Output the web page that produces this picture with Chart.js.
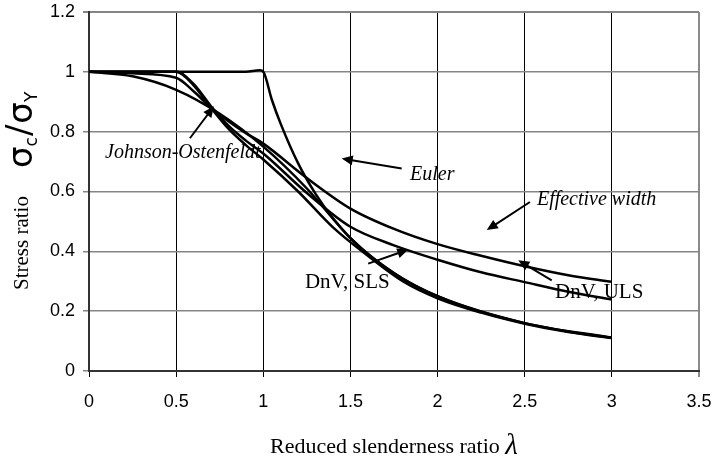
<!DOCTYPE html>
<html>
<head>
<meta charset="utf-8">
<script src="https://cdn.jsdelivr.net/npm/chart.js@4.4.1/dist/chart.umd.min.js"></script>
<style>
  html, body { margin: 0; padding: 0; background: #fff; }
</style>
</head>
<body>
<canvas id="stressChart" width="715" height="463"></canvas>
<script>
// values (reduced slenderness vs. stress ratio)
const lambdaEuler = [0, 0.5, 0.9, 0.98, 1.0, 1.05, 1.1, 1.2, 1.3, 1.4, 1.5, 1.6, 1.8, 2.0, 2.25, 2.5, 2.75, 3.0];
const ratioEuler  = [1, 1, 1, 1.005, 1.0, 0.905, 0.826, 0.694, 0.592, 0.51, 0.444, 0.39, 0.309, 0.25, 0.198, 0.16, 0.132, 0.111];

const lambdaJohnson = [0, 0.25, 0.5, 0.75, 1.0, 1.25, 1.414, 1.5, 1.75, 2.0, 2.5, 3.0];
const ratioJohnson  = [1, 0.985, 0.94, 0.86, 0.75, 0.61, 0.5, 0.444, 0.327, 0.25, 0.16, 0.111];

const lambdaEffective = [0, 0.25, 0.5, 0.6, 0.7, 0.8, 0.9, 1.0, 1.25, 1.5, 1.75, 2.0, 2.25, 2.5, 2.75, 3.0];
const ratioEffective  = [1, 0.995, 0.98, 0.935, 0.88, 0.835, 0.795, 0.76, 0.645, 0.543, 0.475, 0.424, 0.385, 0.35, 0.32, 0.298];

const lambdaUls = [0, 0.5, 0.6, 0.7, 0.8, 0.9, 1.0, 1.25, 1.5, 1.75, 2.0, 2.25, 2.5, 2.75, 3.0];
const ratioUls  = [1, 1, 0.96, 0.885, 0.82, 0.77, 0.727, 0.595, 0.482, 0.42, 0.372, 0.33, 0.297, 0.265, 0.239];

const lambdaSls = [0, 0.5, 0.6, 0.7, 0.8, 0.9, 1.0, 1.2, 1.4, 1.6, 1.8, 2.0, 2.25, 2.5, 2.75, 3.0];
const ratioSls  = [1, 1, 0.955, 0.88, 0.81, 0.755, 0.707, 0.6, 0.48, 0.385, 0.3, 0.243, 0.195, 0.158, 0.13, 0.11];

const xTickLabels = ['0', '0.5', '1', '1.5', '2', '2.5', '3', '3.5'];
const yTickLabels = ['0', '0.2', '0.4', '0.6', '0.8', '1', '1.2'];

// labels with arrows, placed in data units
const notes = [
  { text: 'Johnson-Ostenfeldt', italic: true, at: [0.092, 0.728], from: [0.579, 0.778], to: [0.717, 0.885] },
  { text: 'Euler', italic: true, at: [1.842, 0.655], from: [1.794, 0.677], to: [1.45, 0.71] },
  { text: 'Effective width', italic: true, at: [2.57, 0.571], from: [2.53, 0.565], to: [2.282, 0.471] },
  { text: 'DnV, ULS', italic: false, at: [2.674, 0.263], from: [2.655, 0.303], to: [2.463, 0.37] },
  { text: 'DnV, SLS', italic: false, at: [1.239, 0.297], from: [1.602, 0.359], to: [1.832, 0.406] }
];

function toPoints(xs, ys) {
  return xs.map((x, i) => ({ x: x, y: ys[i] }));
}

function curve(label, xs, ys) {
  return {
    label: label,
    data: toPoints(xs, ys),
    borderColor: '#000',
    borderWidth: 2.5,
    pointRadius: 0,
    fill: false,
    cubicInterpolationMode: 'monotone'
  };
}

function drawArrow(ctx, x1, y1, x2, y2) {
  const ang = Math.atan2(y2 - y1, x2 - x1);
  const len = 11, half = 5;
  ctx.beginPath();
  ctx.moveTo(x1, y1);
  ctx.lineTo(x2 - Math.cos(ang) * len * 0.8, y2 - Math.sin(ang) * len * 0.8);
  ctx.lineWidth = 2;
  ctx.stroke();
  ctx.beginPath();
  ctx.moveTo(x2, y2);
  ctx.lineTo(x2 - Math.cos(ang) * len - Math.sin(ang) * half, y2 - Math.sin(ang) * len + Math.cos(ang) * half);
  ctx.lineTo(x2 - Math.cos(ang) * len + Math.sin(ang) * half, y2 - Math.sin(ang) * len - Math.cos(ang) * half);
  ctx.closePath();
  ctx.fill();
}

const decorations = {
  id: 'decorations',
  afterDraw(chart) {
    const ctx = chart.ctx;
    const xs = chart.scales.x, ys = chart.scales.y;
    ctx.save();
    ctx.fillStyle = '#000';
    ctx.strokeStyle = '#000';

    notes.forEach(n => {
      ctx.font = (n.italic ? 'italic 20px' : '21px') + ' "Liberation Serif"';
      ctx.textBaseline = 'middle';
      ctx.textAlign = 'left';
      ctx.fillText(n.text, xs.getPixelForValue(n.at[0]), ys.getPixelForValue(n.at[1]));
      drawArrow(ctx,
        xs.getPixelForValue(n.from[0]), ys.getPixelForValue(n.from[1]),
        xs.getPixelForValue(n.to[0]), ys.getPixelForValue(n.to[1]));
    });

    // x axis title
    const mid = (chart.chartArea.left + chart.chartArea.right) / 2;
    ctx.textBaseline = 'alphabetic';
    ctx.font = '22px "Liberation Serif"';
    const t1 = 'Reduced slenderness ratio ';
    const w1 = ctx.measureText(t1).width;
    ctx.font = 'italic 29px "Liberation Serif"';
    const w2 = ctx.measureText('λ').width;
    let x0 = mid - (w1 + w2) / 2;
    ctx.font = '22px "Liberation Serif"';
    ctx.fillText(t1, x0, 453);
    ctx.font = 'italic 29px "Liberation Serif"';
    ctx.fillText('λ', x0 + w1, 454);

    // y axis titles, rotated
    ctx.save();
    ctx.translate(28, 243);
    ctx.rotate(-Math.PI / 2);
    ctx.font = '21px "Liberation Serif"';
    ctx.textAlign = 'center';
    ctx.fillText('Stress ratio', 0, 0);
    ctx.restore();

    ctx.save();
    ctx.translate(32, 168);
    ctx.rotate(-Math.PI / 2);
    ctx.textAlign = 'left';
    let p = 0;
    const big = '34px "DejaVu Sans"', small = '17px "DejaVu Sans"';
    ctx.font = big; ctx.fillText('σ', p, 0); p += ctx.measureText('σ').width;
    ctx.font = small; ctx.fillText('c', p, 5); p += ctx.measureText('c').width + 1;
    ctx.font = big; ctx.fillText('/', p, -2); p += ctx.measureText('/').width + 1;
    ctx.fillText('σ', p, 0); p += ctx.measureText('σ').width;
    ctx.font = small; ctx.fillText('Y', p, 5);
    ctx.restore();

    ctx.restore();
  }
};

const ctx = document.getElementById('stressChart').getContext('2d');
const chart = new Chart(ctx, {
  type: 'line',
  data: {
    datasets: [
      curve('Euler', lambdaEuler, ratioEuler),
      curve('Johnson-Ostenfeldt', lambdaJohnson, ratioJohnson),
      curve('Effective width', lambdaEffective, ratioEffective),
      curve('DnV, ULS', lambdaUls, ratioUls),
      curve('DnV, SLS', lambdaSls, ratioSls)
    ]
  },
  options: {
    responsive: false,
    animation: false,
    layout: { padding: { top: 12, right: 16, left: 0, bottom: 0 } },
    plugins: {
      legend: { display: false },
      tooltip: { enabled: false }
    },
    scales: {
      x: {
        type: 'linear',
        min: 0,
        max: 3.5,
        afterFit(scale) {
          scale.height = 92;
          scale.paddingLeft = 0;
          scale.paddingRight = 0;
        },
        ticks: {
          stepSize: 0.5,
          padding: 14,
          color: '#000',
          font: { family: 'Liberation Sans', size: 18 },
          callback: (v, i) => xTickLabels[i]
        },
        grid: {
          color: c => (c.tick && c.tick.value === 3.5) ? '#8a8a8a' : '#000',
          lineWidth: c => (c.tick && c.tick.value === 3.5) ? 2 : 1,
          tickLength: 6
        },
        border: { color: '#333', width: 2 }
      },
      y: {
        min: 0,
        max: 1.2,
        afterFit(scale) {
          scale.width = 89;
          scale.paddingTop = 0;
          scale.paddingBottom = 0;
        },
        ticks: {
          stepSize: 0.2,
          padding: 8,
          color: '#000',
          font: { family: 'Liberation Sans', size: 18 },
          callback: (v, i) => yTickLabels[i]
        },
        grid: {
          color: '#858585',
          lineWidth: c => (c.tick && c.tick.value > 1.19) ? 2 : 1.5,
          tickLength: 6
        },
        border: { color: '#333', width: 2 }
      }
    }
  },
  plugins: [decorations]
});
</script>
</body>
</html>
